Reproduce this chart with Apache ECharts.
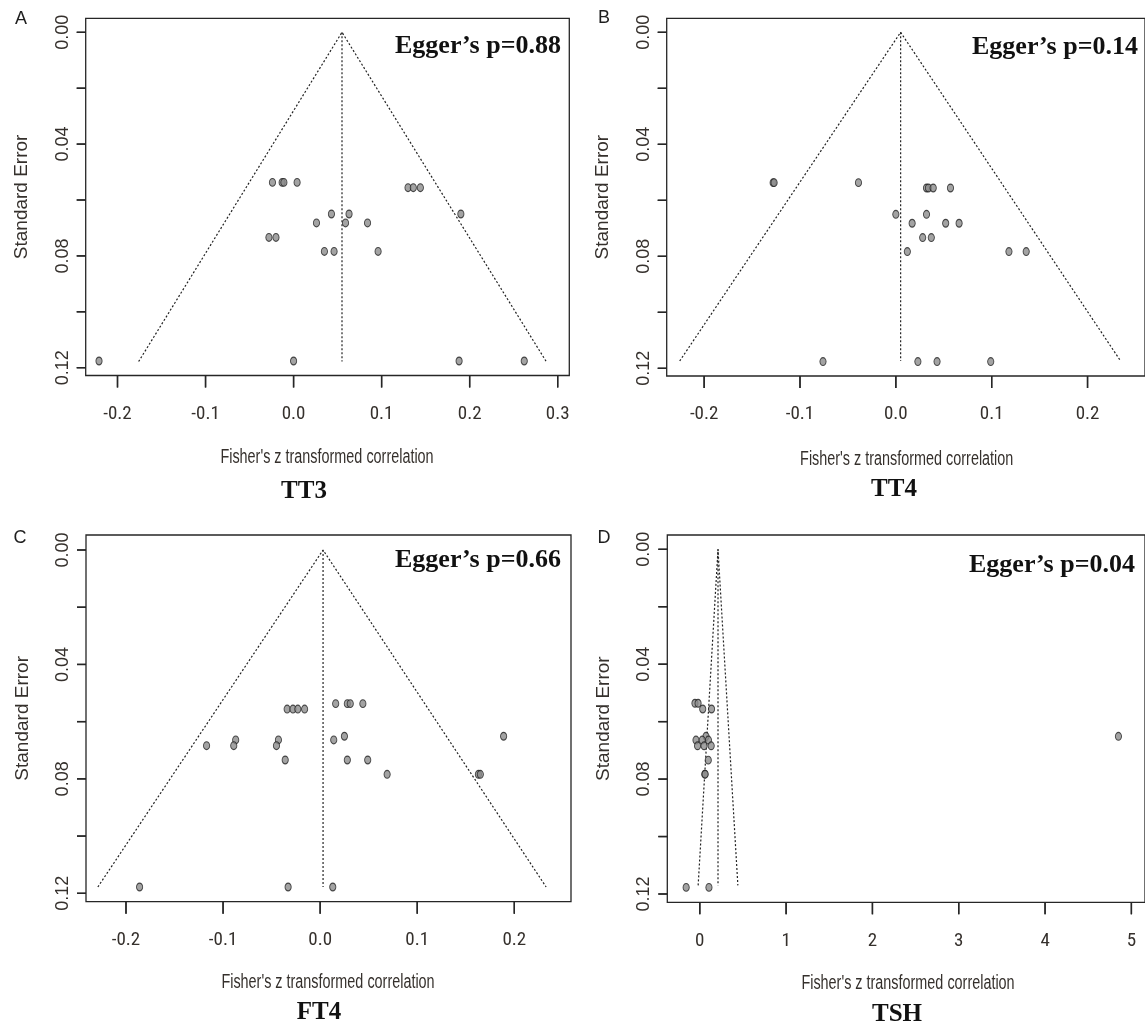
<!DOCTYPE html>
<html>
<head>
<meta charset="utf-8">
<script src="https://cdn.jsdelivr.net/npm/echarts@6/dist/echarts.min.js"></script>
<style>
  html, body { margin: 0; padding: 0; background: #fff; }
  #chart { width: 1145px; height: 1028px; }
</style>
</head>
<body>
<div id="chart"></div>
<script>
// ---- data: Fisher's z transformed correlation vs. standard error per study ----
const panelLetters = ['A', 'B', 'C', 'D'];
const panelNames = ['TT3', 'TT4', 'FT4', 'TSH'];
const eggerP = ['0.88', '0.14', '0.66', '0.04'];

const tt3Z  = [-0.024, -0.013, -0.011, 0.004, 0.130, 0.136, 0.144, 0.043, 0.063, 0.190, 0.026, 0.059, 0.084, -0.028, -0.020, 0.035, 0.046, 0.096, -0.221, 0.000, 0.188, 0.262];
const tt3SE = [0.0537, 0.0537, 0.0537, 0.0537, 0.0556, 0.0556, 0.0556, 0.0650, 0.0650, 0.0650, 0.0682, 0.0682, 0.0682, 0.0734, 0.0734, 0.0784, 0.0784, 0.0784, 0.1176, 0.1176, 0.1176, 0.1176];

const tt4Z  = [-0.128, -0.127, -0.039, 0.032, 0.034, 0.039, 0.057, 0.000, 0.032, 0.017, 0.052, 0.066, 0.028, 0.037, 0.012, 0.118, 0.136, -0.076, 0.023, 0.043, 0.099];
const tt4SE = [0.0537, 0.0537, 0.0537, 0.0556, 0.0556, 0.0556, 0.0556, 0.0650, 0.0650, 0.0682, 0.0682, 0.0682, 0.0733, 0.0733, 0.0783, 0.0783, 0.0783, 0.1176, 0.1176, 0.1176, 0.1176];

const ft4Z  = [0.016, 0.028, 0.031, 0.044, -0.034, -0.028, -0.023, -0.016, 0.025, 0.189, -0.087, -0.043, 0.014, -0.117, -0.089, -0.045, -0.036, 0.028, 0.049, 0.069, 0.163, 0.165, -0.186, -0.033, 0.013];
const ft4SE = [0.0537, 0.0537, 0.0537, 0.0537, 0.0556, 0.0556, 0.0556, 0.0556, 0.0651, 0.0651, 0.0664, 0.0664, 0.0664, 0.0684, 0.0684, 0.0684, 0.0734, 0.0734, 0.0734, 0.0784, 0.0784, 0.0784, 0.1178, 0.1178, 0.1178];

const tshZ  = [-0.056, -0.020, 0.034, 0.136, 0.072, 4.850, -0.044, 0.028, 0.100, -0.026, 0.050, 0.132, 0.098, 0.058, 0.062, -0.158, 0.106];
const tshSE = [0.0536, 0.0536, 0.0556, 0.0556, 0.0651, 0.0651, 0.0664, 0.0664, 0.0664, 0.0684, 0.0684, 0.0684, 0.0734, 0.0783, 0.0783, 0.1177, 0.1177];

// pseudo confidence funnel: apex (pooled estimate), base ends and base SE
const funnelApex = [0.055, 0.005, 0.003, 0.211];
const funnelLow  = [-0.176, -0.2255, -0.229, -0.019];
const funnelHigh = [0.287, 0.2345, 0.2328, 0.441];
const funnelBase = [0.1178, 0.1174, 0.1178, 0.1170];

// tick marks and labelled ticks
const xTicksTT3 = [-0.2, -0.1, 0.0, 0.1, 0.2, 0.3];
const xTicksTT4 = [-0.2, -0.1, 0.0, 0.1, 0.2];
const xTicksFT4 = [-0.2, -0.1, 0.0, 0.1, 0.2];
const xTicksTSH = [0, 1, 2, 3, 4, 5];
const yTicks = [0, 0.02, 0.04, 0.06, 0.08, 0.10, 0.12];
const yTickLabels = [0, 0.04, 0.08, 0.12];
const xTitle = "Fisher's z transformed correlation";
const yTitle = 'Standard Error';

const studyZ = [tt3Z, tt4Z, ft4Z, tshZ];
const studySE = [tt3SE, tt4SE, ft4SE, tshSE];
const xTicks = [xTicksTT3, xTicksTT4, xTicksFT4, xTicksTSH];
const xDecimals = [1, 1, 1, 0];

// ---- layout (pixels): plot frame and the pixel span between first and last tick ----
const layout = [
  { frame: [85.7, 18.3, 569.3, 375.5], ticks: [117.5, 32.3, 557.7, 367.7], letter: [21, 19], egger: [561, 46.7], name: [304, 492], xTitle: [327, 457] },
  { frame: [666.7, 18.3, 1147, 376], ticks: [704.3, 32.3, 1089.3, 368.3], letter: [604, 18], egger: [1138, 47.5], name: [894, 490], xTitle: [906.7, 459] },
  { frame: [86, 535, 571, 901.7], ticks: [126, 550, 514.3, 893.3], letter: [20, 538], egger: [561, 560], name: [319, 1012.5], xTitle: [328, 982.7] },
  { frame: [667.3, 535, 1148, 902.3], ticks: [700, 549.3, 1134.3, 894], letter: [604, 538], egger: [1135, 565], name: [897, 1015], xTitle: [908, 983.3] }
];
const X_TICK_LEN = 12, Y_TICK_LEN = 9, TICK_W = 1.4;

const INK = '#262626';
const TEXT_INK = '#35302c';
const SANS = "'Liberation Sans', Arial, sans-serif";
const COND = "'Roboto Condensed', 'Liberation Sans', sans-serif";
const SERIF = "'Liberation Serif', 'Times New Roman', serif";
const ELLIPSE = 'path://M0,-1 C0.552,-1 1,-0.552 1,0 C1,0.552 0.552,1 0,1 C-0.552,1 -1,0.552 -1,0 C-1,-0.552 -0.552,-1 0,-1 Z';

const grids = [], xAxes = [], yAxes = [], series = [], graphics = [];
const frameEdges = [];

layout.forEach((L, i) => {
  const [fl, ft, fr, fb] = L.frame;
  const [tl, tt, tr, tb] = L.ticks;
  const xt = xTicks[i];
  const x0 = xt[0], x1 = xt[xt.length - 1];
  const y0 = yTicks[0], y1 = yTicks[yTicks.length - 1];
  // value range covered by the frame, given where the end ticks sit
  const xUnit = (x1 - x0) / (tr - tl);
  const yUnit = (y1 - y0) / (tb - tt);
  const fxMin = x0 - (tl - fl) * xUnit, fxMax = x1 + (fr - tr) * xUnit;
  const fyMin = y0 - (tt - ft) * yUnit, fyMax = y1 + (fb - tb) * yUnit;
  frameEdges.push({ xMin: fxMin, yMax: fyMax });
  const dec = xDecimals[i];

  grids.push({ left: fl, top: ft, width: fr - fl, height: fb - ft, show: true,
    borderColor: INK, borderWidth: 1.3, backgroundColor: 'transparent' });

  xAxes.push({
    gridIndex: i, type: 'value', position: 'bottom', min: fxMin, max: fxMax,
    axisLine: { show: false, onZero: false },
    axisTick: { show: false },
    axisLabel: {
      show: true, customValues: xt, margin: 29, fontFamily: COND, fontSize: 19, color: TEXT_INK,
      formatter: v => (Math.abs(v) < 1e-9 ? 0 : v).toFixed(dec)
    },
    splitLine: { show: false }
  });
  yAxes.push({
    gridIndex: i, type: 'value', position: 'left', inverse: true, min: fyMin, max: fyMax,
    axisLine: { show: false, onZero: false },
    axisTick: { show: false },
    axisLabel: {
      show: true, customValues: yTickLabels, rotate: 90, margin: 14, fontFamily: SANS, fontSize: 18, color: TEXT_INK,
      formatter: v => v.toFixed(2)
    },
    splitLine: { show: false },
    name: yTitle, nameLocation: 'middle', nameRotate: 90, nameGap: 54,
    nameTextStyle: { fontFamily: SANS, fontSize: 19, color: TEXT_INK }
  });

  // outward tick marks on the lower frame edge, placed through the x scale
  series.push({
    type: 'custom', xAxisIndex: i, yAxisIndex: i, silent: true, clip: false, z: 10,
    data: xt.map(v => [v, fyMax]),
    renderItem: (params, api) => {
      const p = api.coord([api.value(0), api.value(1)]);
      return { type: 'rect', shape: { x: p[0] - TICK_W / 2, y: p[1], width: TICK_W, height: X_TICK_LEN },
        style: { fill: INK } };
    }
  });
  // outward tick marks on the left frame edge, placed through the y scale
  series.push({
    type: 'custom', xAxisIndex: i, yAxisIndex: i, silent: true, clip: false, z: 10,
    data: yTicks.map(v => [fxMin, v]),
    renderItem: (params, api) => {
      const p = api.coord([api.value(0), api.value(1)]);
      return { type: 'rect', shape: { x: p[0] - Y_TICK_LEN, y: p[1] - TICK_W / 2, width: Y_TICK_LEN, height: TICK_W },
        style: { fill: INK } };
    }
  });

  const dotted = { color: '#222', width: 1.2, type: [2, 2] };
  series.push({
    type: 'line', xAxisIndex: i, yAxisIndex: i, silent: true,
    symbol: 'none', lineStyle: dotted,
    data: [[funnelLow[i], funnelBase[i]], [funnelApex[i], 0], [funnelHigh[i], funnelBase[i]]]
  });
  series.push({
    type: 'line', xAxisIndex: i, yAxisIndex: i, silent: true,
    symbol: 'none', lineStyle: dotted,
    data: [[funnelApex[i], 0], [funnelApex[i], funnelBase[i]]]
  });
  series.push({
    type: 'scatter', xAxisIndex: i, yAxisIndex: i, silent: true,
    symbol: ELLIPSE, symbolSize: [6.2, 7.8], z: 3,
    itemStyle: { color: '#8c8c8c', borderColor: '#222', borderWidth: 1 },
    data: studyZ[i].map((z, k) => [z, studySE[i][k]])
  });

  graphics.push({
    type: 'text', x: L.letter[0], y: L.letter[1],
    style: { text: panelLetters[i], fontFamily: SANS, fontSize: 18, fill: '#1e1e1e', align: 'center', verticalAlign: 'middle' }
  });
  // x title in the narrow face of the R device
  graphics.push({
    type: 'text', x: L.xTitle[0], y: L.xTitle[1], scaleX: 0.72,
    style: { text: xTitle, fontFamily: SANS, fontSize: 20, fill: TEXT_INK, align: 'center', verticalAlign: 'middle' }
  });
  graphics.push({
    type: 'text', x: L.egger[0], y: L.egger[1],
    style: { text: 'Egger\u2019s p=' + eggerP[i], fontFamily: SERIF, fontWeight: 'bold', fontSize: 26, fill: '#111', align: 'right', verticalAlign: 'middle' }
  });
  graphics.push({
    type: 'text', x: L.name[0], y: L.name[1],
    style: { text: panelNames[i], fontFamily: SERIF, fontWeight: 'bold', fontSize: 25, fill: '#111', align: 'center', verticalAlign: 'middle' }
  });
});

const chart = echarts.init(document.getElementById('chart'), null, { renderer: 'canvas' });
chart.setOption({
  animation: false,
  backgroundColor: '#fff',
  grid: grids,
  xAxis: xAxes,
  yAxis: yAxes,
  series: series,
  graphic: graphics
});

// tick marks again as graphic strokes, positioned by converting tick values through each grid
const tickMarks = [];
xTicks.forEach((xt, i) => {
  const e = frameEdges[i];
  xt.forEach(v => {
    const p = chart.convertToPixel({ gridIndex: i }, [v, e.yMax]);
    tickMarks.push({ type: 'line', z: 100, shape: { x1: p[0], y1: p[1], x2: p[0], y2: p[1] + X_TICK_LEN }, style: { stroke: INK, lineWidth: TICK_W } });
  });
  yTicks.forEach(v => {
    const p = chart.convertToPixel({ gridIndex: i }, [e.xMin, v]);
    tickMarks.push({ type: 'line', z: 100, shape: { x1: p[0], y1: p[1], x2: p[0] - Y_TICK_LEN, y2: p[1] }, style: { stroke: INK, lineWidth: TICK_W } });
  });
});
chart.setOption({ graphic: graphics.concat(tickMarks) });
</script>
</body>
</html>
